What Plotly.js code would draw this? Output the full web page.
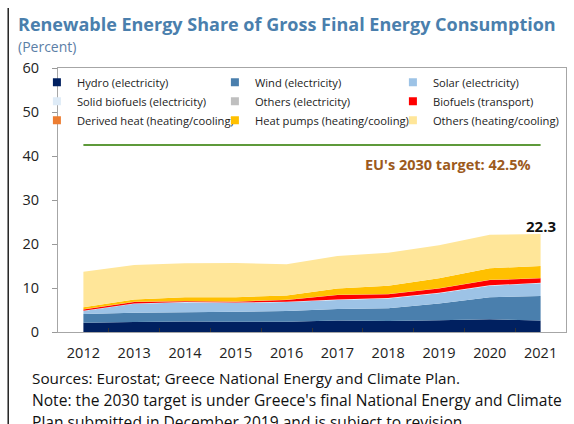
<!DOCTYPE html>
<html>
<head>
<meta charset="utf-8">
<script src="https://cdn.plot.ly/plotly-3.0.1.min.js"></script>
<style>html,body{margin:0;padding:0;background:#fff;}#chart{width:574px;height:424px;}</style>
</head>
<body>
<div id="chart"></div>
<script>
// ---- Data (percent of gross final energy consumption) ----
var years = [2012, 2013, 2014, 2015, 2016, 2017, 2018, 2019, 2020, 2021];
var yearLabels = ['2012','2013','2014','2015','2016','2017','2018','2019','2020','2021'];
var hydroElec      = [2.1, 2.3, 2.4, 2.35, 2.35, 2.6, 2.5, 2.65, 2.9, 2.6];
var windElec       = [2.0, 2.1, 2.1, 2.25, 2.45, 2.6, 2.9, 3.85, 5.0, 5.6];
var solarElec      = [0.65, 2.0, 2.2, 2.0, 2.0, 2.1, 2.2, 2.3, 2.6, 2.9];
var solidBioElec   = [0.1, 0.1, 0.1, 0.1, 0.1, 0.1, 0.1, 0.1, 0.1, 0.1];
var othersElec     = [0.0, 0.0, 0.0, 0.0, 0.0, 0.0, 0.0, 0.0, 0.0, 0.0];
var biofuelsTransp = [0.25, 0.3, 0.2, 0.2, 0.4, 1.0, 0.9, 1.0, 1.2, 1.0];
var derivedHeat    = [0.05, 0.05, 0.05, 0.05, 0.05, 0.05, 0.05, 0.05, 0.05, 0.05];
var heatPumps      = [0.45, 0.55, 0.85, 0.95, 0.95, 1.45, 1.85, 2.25, 2.65, 2.75];
var othersHeat     = [8.1, 7.8, 7.7, 7.8, 7.1, 7.4, 7.5, 7.5, 7.6, 7.3];
var totalShare2021 = 22.3;
var targetYears = [2012, 2021];
var targetValue = [42.5, 42.5];
var midTicks = [2012.5, 2013.5, 2014.5, 2015.5, 2016.5, 2017.5, 2018.5, 2019.5, 2020.5];

var seriesNames = ['Hydro (electricity)', 'Wind (electricity)', 'Solar (electricity)',
  'Solid biofuels (electricity)', 'Others (electricity)', 'Biofuels (transport)',
  'Derived heat (heating/cooling)', 'Heat pumps (heating/cooling)', 'Others (heating/cooling)'];
var seriesValues = [hydroElec, windElec, solarElec, solidBioElec, othersElec, biofuelsTransp,
  derivedHeat, heatPumps, othersHeat];
var seriesColors = ['#002060', '#4a7fad', '#9dc3e6', '#deebf7', '#bfbfbf', '#ff0000',
  '#ed7d31', '#ffc000', '#ffe699'];

var traces = [];
for (var i = 0; i < seriesNames.length; i++) {
  traces.push({
    type: 'scatter', x: years, y: seriesValues[i], name: seriesNames[i],
    stackgroup: 'one', mode: 'none', fillcolor: seriesColors[i],
    line: {width: 0}, showlegend: false, hoverinfo: 'skip'
  });
}
for (var j = 0; j < seriesNames.length; j++) {
  traces.push({
    type: 'scatter', x: [null], y: [null], name: seriesNames[j], mode: 'markers',
    marker: {symbol: 'square', size: 8, color: seriesColors[j]}, showlegend: true
  });
}
traces.push({
  type: 'scatter', x: targetYears, y: targetValue, xaxis: 'x2', yaxis: 'y',
  mode: 'lines', line: {color: '#5e9a3a', width: 2}, showlegend: false, hoverinfo: 'skip'
});

var font = 'Open Sans, Noto Sans, sans-serif';

var layout = {
  width: 574, height: 424,
  margin: {l: 58, r: 8, t: 68, b: 92, autoexpand: false},
  paper_bgcolor: '#fff', plot_bgcolor: '#fff',
  font: {family: font, color: '#222'},
  xaxis: {
    range: [2011.5, 2021.5], tickvals: years, ticktext: yearLabels,
    ticks: '', showgrid: false, zeroline: false,
    showline: true, mirror: true, linecolor: '#a6a6a6', linewidth: 1,
    tickfont: {family: font, size: 14.5, color: '#222'}, ticklabelstandoff: 8
  },
  xaxis2: {
    overlaying: 'x', anchor: 'y', range: [2011.5, 2021.5], tickvals: midTicks,
    ticks: 'inside', ticklen: 4, tickcolor: '#333', tickwidth: 1,
    showticklabels: false, showgrid: false, zeroline: false, showline: false
  },
  yaxis: {
    range: [0, 60], dtick: 10, ticks: 'outside', ticklen: 5, tickcolor: '#999',
    showgrid: false, zeroline: false, showline: true, mirror: true,
    linecolor: '#a6a6a6', linewidth: 1,
    tickfont: {family: font, size: 14.5, color: '#222'}, ticklabelstandoff: 10
  },
  legend: {
    orientation: 'h', traceorder: 'normal', x: -0.012, y: 1.0005,
    xanchor: 'left', yanchor: 'top', bgcolor: 'rgba(0,0,0,0)', borderwidth: 0,
    entrywidth: 148, entrywidthmode: 'pixels', indentation: -15,
    font: {family: font, size: 11.2, color: '#222'}
  },
  annotations: [
    {xref: 'paper', yref: 'paper', x: -0.083, y: 1.167, xanchor: 'left', yanchor: 'middle',
     text: '<b>Renewable Energy Share of Gross Final Energy Consumption</b>', showarrow: false,
     font: {family: font, size: 18, color: '#4a7fad'}},
    {xref: 'paper', yref: 'paper', x: -0.083, y: 1.083, xanchor: 'left', yanchor: 'middle',
     text: '(Percent)', showarrow: false, font: {family: font, size: 14, color: '#5b7ea6'}},
    {xref: 'x', yref: 'y', x: 2021, y: totalShare2021, xanchor: 'center', yanchor: 'bottom',
     yshift: -4, text: '<b>' + totalShare2021.toFixed(1) + '</b>', showarrow: false,
     font: {family: font, size: 15, color: '#111'}},
    {xref: 'x', yref: 'y', x: 2021, y: targetValue[0], xanchor: 'right', yanchor: 'top',
     xshift: -8, yshift: -8, text: "<b>EU's 2030 target: " + targetValue[0] + '%</b>', showarrow: false,
     font: {family: font, size: 14.5, color: '#9c5a1d'}},
    {xref: 'paper', yref: 'paper', x: -0.055, y: -0.174, xanchor: 'left', yanchor: 'middle',
     text: 'Sources: Eurostat; Greece National Energy and Climate Plan.', showarrow: false,
     font: {family: font, size: 15.3, color: '#111'}},
    {xref: 'paper', yref: 'paper', x: -0.055, y: -0.258, xanchor: 'left', yanchor: 'middle',
     text: "Note: the 2030 target is under Greece's final National Energy and Climate", showarrow: false,
     font: {family: font, size: 15.6, color: '#111'}},
    {xref: 'paper', yref: 'paper', x: -0.055, y: -0.340, xanchor: 'left', yanchor: 'middle',
     text: 'Plan submitted in December 2019 and is subject to revision.', showarrow: false,
     font: {family: font, size: 15.6, color: '#111'}}
  ],
  shapes: [
    {type: 'line', xref: 'paper', yref: 'paper', x0: -0.098, x1: -0.098, y0: 1.227, y1: -0.36,
     line: {color: '#222', width: 1.5}}
  ]
};

Plotly.newPlot('chart', traces, layout, {displayModeBar: false, staticPlot: true});
</script>
</body>
</html>
